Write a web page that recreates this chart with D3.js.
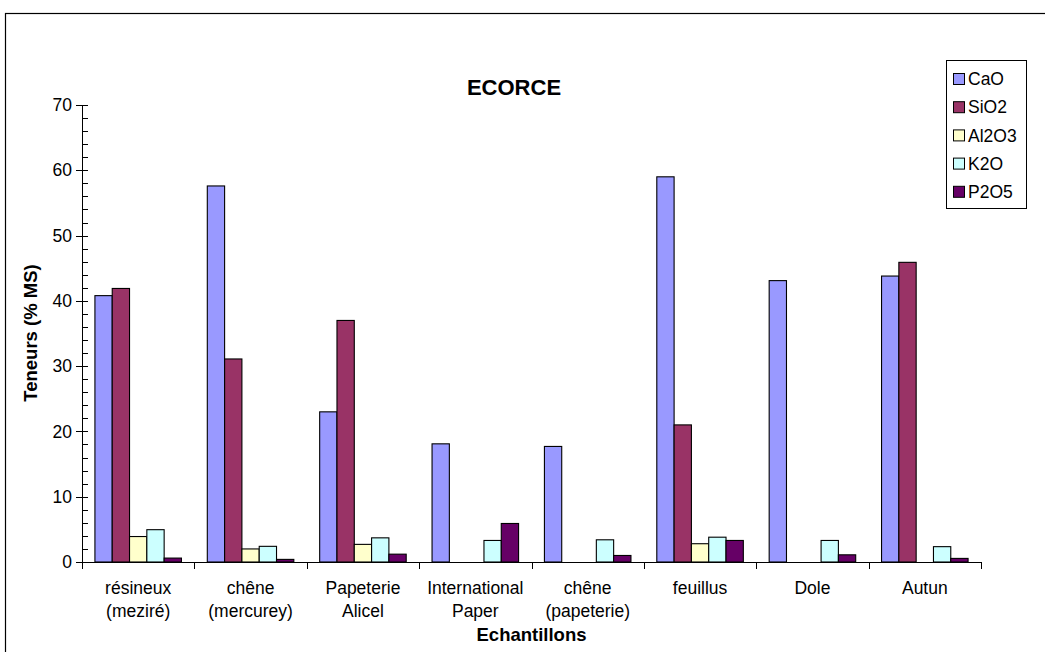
<!DOCTYPE html>
<html>
<head>
<meta charset="utf-8">
<script src="https://cdn.jsdelivr.net/npm/d3@7"></script>
<style>
  html, body { margin: 0; padding: 0; background: #fff; }
  svg { display: block; font-family: "Liberation Sans", Arial, sans-serif; }
</style>
</head>
<body>
<svg id="chart" width="1045" height="652"></svg>
<script>
// Sample names (two-line labels) and oxide series, contents in % of dry matter
const categories = [
  ["résineux", "(meziré)"],
  ["chêne", "(mercurey)"],
  ["Papeterie", "Alicel"],
  ["International", "Paper"],
  ["chêne", "(papeterie)"],
  ["feuillus"],
  ["Dole"],
  ["Autun"]
];
const seriesNames = ["CaO", "SiO2", "Al2O3", "K2O", "P2O5"];
const seriesColors = ["#9999FF", "#993366", "#FFFFCC", "#CCFFFF", "#660066"];
const CaO   = [40.8, 57.6, 23.0, 18.1, 17.7, 59.0, 43.1, 43.8];
const SiO2  = [41.9, 31.1, 37.0, 0,    0,    21.0, 0,    45.9];
const Al2O3 = [3.9,  2.0,  2.7,  0,    0,    2.8,  0,    0];
const K2O   = [4.95, 2.4,  3.7,  3.3,  3.4,  3.8,  3.3,  2.35];
const P2O5  = [0.6,  0.4,  1.2,  5.9,  1.0,  3.3,  1.1,  0.55];
const seriesValues = [CaO, SiO2, Al2O3, K2O, P2O5];
const yTicks = [0, 10, 20, 30, 40, 50, 60, 70];
const yMinorTicks = d3.range(0, 71, 2);

const svg = d3.select("#chart");

// Chart area border
svg.append("rect")
  .attr("x", 5.5).attr("y", 13.5)
  .attr("width", 1100).attr("height", 700)
  .attr("fill", "none").attr("stroke", "#000").attr("stroke-width", 1.2);

const plot = { left: 82, right: 981, top: 105, bottom: 562 };

const x0 = d3.scaleBand()
  .domain(d3.range(categories.length))
  .range([plot.left, plot.right])
  .padding(0);

const groupPad = x0.bandwidth() * 0.115;
const x1 = d3.scaleBand()
  .domain(seriesNames)
  .range([groupPad, x0.bandwidth() - groupPad])
  .padding(0);

const y = d3.scaleLinear().domain([0, 70]).range([plot.bottom, plot.top]);

// Bars
const groups = svg.append("g").selectAll("g")
  .data(categories.map((c, i) => i))
  .join("g")
  .attr("transform", i => `translate(${x0(i)},0)`);

groups.selectAll("rect")
  .data(i => seriesNames.map((s, k) => ({ s, k, v: seriesValues[k][i] })).filter(d => d.v > 0))
  .join("rect")
  .attr("x", d => x1(d.s))
  .attr("y", d => y(d.v))
  .attr("width", x1.bandwidth())
  .attr("height", d => y(0) - y(d.v))
  .attr("fill", d => seriesColors[d.k])
  .attr("stroke", "#000")
  .attr("stroke-width", 1.1);

// Y axis: minor ticks inside, major ticks crossing
const yAxisG = svg.append("g").attr("stroke", "#000");
yAxisG.append("line")
  .attr("x1", plot.left + 0.5).attr("x2", plot.left + 0.5)
  .attr("y1", y(70)).attr("y2", y(0))
  .attr("stroke-width", 1);
yAxisG.selectAll("line.minor")
  .data(yMinorTicks)
  .join("line")
  .attr("class", "minor")
  .attr("x1", plot.left).attr("x2", plot.left + 6)
  .attr("y1", d => Math.round(y(d)) + 0.5).attr("y2", d => Math.round(y(d)) + 0.5);
yAxisG.selectAll("line.major")
  .data(yTicks)
  .join("line")
  .attr("class", "major")
  .attr("x1", plot.left - 6).attr("x2", plot.left + 6)
  .attr("y1", d => Math.round(y(d)) + 0.5).attr("y2", d => Math.round(y(d)) + 0.5);

svg.append("g").selectAll("text")
  .data(yTicks)
  .join("text")
  .attr("x", plot.left - 10)
  .attr("y", d => y(d))
  .attr("dy", "0.35em")
  .attr("text-anchor", "end")
  .attr("font-size", 17.5)
  .attr("fill", "#000")
  .text(d => d);

// X axis with ticks between categories
const xAxisG = svg.append("g").attr("stroke", "#000");
xAxisG.append("line")
  .attr("x1", plot.left).attr("x2", plot.right)
  .attr("y1", plot.bottom + 0.5).attr("y2", plot.bottom + 0.5);
xAxisG.selectAll("line.tick")
  .data(d3.range(categories.length + 1))
  .join("line")
  .attr("class", "tick")
  .attr("x1", i => Math.round(plot.left + i * x0.step()) + 0.5)
  .attr("x2", i => Math.round(plot.left + i * x0.step()) + 0.5)
  .attr("y1", plot.bottom).attr("y2", plot.bottom + 7);

const xLabels = svg.append("g").selectAll("text")
  .data(categories.map((c, i) => ({ c, i })))
  .join("text")
  .attr("text-anchor", "middle")
  .attr("font-size", 17.5)
  .attr("fill", "#000")
  .attr("transform", d => `translate(${x0(d.i) + x0.bandwidth() / 2},594)`);
xLabels.selectAll("tspan")
  .data(d => d.c)
  .join("tspan")
  .attr("x", 0)
  .attr("y", (t, j) => j * 23)
  .text(t => t);

// Titles
svg.append("text")
  .attr("x", 514).attr("y", 95)
  .attr("text-anchor", "middle")
  .attr("font-size", 22).attr("font-weight", "bold")
  .text("ECORCE");

svg.append("text")
  .attr("x", (plot.left + plot.right) / 2).attr("y", 641)
  .attr("text-anchor", "middle")
  .attr("font-size", 18.5).attr("font-weight", "bold")
  .text("Echantillons");

svg.append("text")
  .attr("transform", "translate(37,333) rotate(-90)")
  .attr("text-anchor", "middle")
  .attr("font-size", 18.5).attr("font-weight", "bold")
  .text("Teneurs (% MS)");

// Legend
const legend = svg.append("g");
legend.append("rect")
  .attr("x", 946.5).attr("y", 60.5)
  .attr("width", 80).attr("height", 148)
  .attr("fill", "#fff").attr("stroke", "#000").attr("stroke-width", 1);
const items = legend.selectAll("g.item")
  .data(seriesNames.map((s, k) => ({ s, k })))
  .join("g")
  .attr("class", "item")
  .attr("transform", d => `translate(0,${79 + d.k * 28.2})`);
items.append("rect")
  .attr("x", 953.5).attr("y", -5.5)
  .attr("width", 11).attr("height", 11)
  .attr("fill", d => seriesColors[d.k])
  .attr("stroke", "#000").attr("stroke-width", 1);
items.append("text")
  .attr("x", 968).attr("y", 0)
  .attr("dy", "0.35em")
  .attr("font-size", 17.5)
  .text(d => d.s);
</script>
</body>
</html>
